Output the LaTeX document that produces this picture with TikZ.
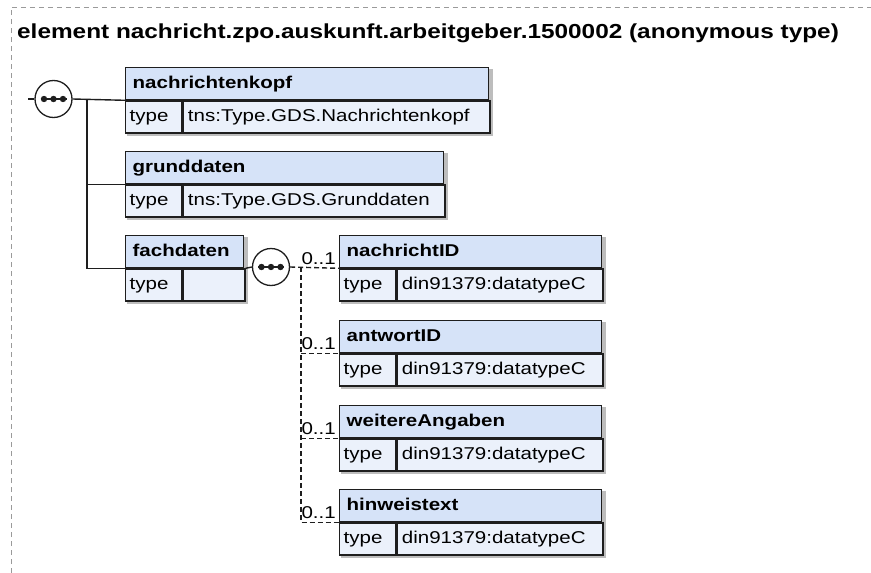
\documentclass[tikz,border=0pt]{standalone}
\usepackage{fontspec}
\setmainfont{Liberation Sans}[FakeStretch=1.2]
\usetikzlibrary{positioning, backgrounds}
\definecolor{HeadBlue}{HTML}{D6E3F8}
\definecolor{TypeBlue}{HTML}{EBF1FB}
\definecolor{FrameGray}{HTML}{9A9A9A}
\definecolor{ShadeGray}{HTML}{BDBDBD}
\definecolor{LineDark}{HTML}{1E1E1E}

\tikzset{
  cell/.style={draw=LineDark, line width=1.3pt, anchor=north west, minimum height=32pt,
    inner ysep=7.5pt, text height=13.5pt, text depth=3.5pt, align=left,
    font=\fontsize{17.1}{20}\selectfont},
  elhead/.style={cell, fill=HeadBlue, inner xsep=7pt, text width=#1, font=\fontsize{17.1}{20}\selectfont\bfseries},
  eltype/.style={cell, fill=TypeBlue, inner xsep=4pt, text width=48pt},
  elval/.style={cell, fill=TypeBlue, inner xsep=5pt, text width=#1},
  shade/.style={fill=ShadeGray, draw=none},
  seq/.style={circle, draw=LineDark, fill=white, line width=1.3pt, minimum size=37pt, inner sep=0pt,
    path picture={
      \draw[LineDark, line width=1.2pt] ([xshift=-13pt]path picture bounding box.center) -- ([xshift=13pt]path picture bounding box.center);
      \fill[LineDark] ([xshift=-9.5pt]path picture bounding box.center) circle (3.2pt);
      \fill[LineDark] (path picture bounding box.center) circle (3.2pt);
      \fill[LineDark] ([xshift=9.5pt]path picture bounding box.center) circle (3.2pt);
    }},
  conn/.style={draw=LineDark, line width=1.4pt},
  optconn/.style={conn, dash pattern=on 5pt off 3pt},
  occ/.style={anchor=base east, inner sep=0pt, font=\fontsize{17.1}{20}\selectfont}
}

\begin{document}
\begin{tikzpicture}[x=1pt, y=-1pt]
  \useasboundingbox (0,0) rectangle (871,573);
  % frame and title
  \draw[FrameGray, line width=1pt, dash pattern=on 5pt off 4pt] (11,573) -- (11,7) -- (871,7);
  \node[anchor=base west, inner sep=0pt, font=\fontsize{20.3}{24}\selectfont\bfseries] (title) at (17,38)
    {element nachricht.zpo.auskunft.arbeitgeber.1500002 (anonymous type)};

  % top level sequence
  \node[elhead=349pt] (kopf) at (125,67) {nachrichtenkopf};
  \node[eltype] (kopfT) at (kopf.south west) {type};
  \node[elval=297pt] (kopfV) at (kopfT.north east) {tns:Type.GDS.Nachrichtenkopf};

  \node[elhead=304pt] (grund) at (125,151) {grunddaten};
  \node[eltype] (grundT) at (grund.south west) {type};
  \node[elval=252pt] (grundV) at (grundT.north east) {tns:Type.GDS.Grunddaten};

  \node[elhead=104pt] (fach) at (125,235) {fachdaten};
  \node[eltype] (fachT) at (fach.south west) {type};
  \node[elval=52pt] (fachV) at (fachT.north east) {};

  \coordinate (start) at (28,99);
  \coordinate (jA) at (87,99);
  \node[seq] (seqA) at (53.5,99) {};
  \draw[conn] (start) -- (seqA.west);
  \draw[conn] (seqA.east) -- (kopfT.north west);
  \draw[conn] (jA) |- (fachT.north west);
  \draw[conn] (jA |- grundT.north west) -- (grundT.north west);

  % content of fachdaten
  \node[elhead=248pt] (nid) at (339,235) {nachrichtID};
  \node[eltype] (nidT) at (nid.south west) {type};
  \node[elval=196pt] (nidV) at (nidT.north east) {din91379:datatypeC};

  \node[elhead=248pt] (aid) at (339,320) {antwortID};
  \node[eltype] (aidT) at (aid.south west) {type};
  \node[elval=196pt] (aidV) at (aidT.north east) {din91379:datatypeC};

  \node[elhead=248pt] (weit) at (339,405) {weitereAngaben};
  \node[eltype] (weitT) at (weit.south west) {type};
  \node[elval=196pt] (weitV) at (weitT.north east) {din91379:datatypeC};

  \node[elhead=248pt] (hin) at (339,489) {hinweistext};
  \node[eltype] (hinT) at (hin.south west) {type};
  \node[elval=196pt] (hinV) at (hinT.north east) {din91379:datatypeC};

  \node[seq] (seqB) at (271,267) {};
  \coordinate (jB) at (301,267);
  \draw[conn] (fachV.north east) -- (seqB.west);
  \draw[optconn] (seqB.east) -- (nidT.north west);
  \draw[optconn] (jB) |- (hinT.north west);
  \draw[optconn] (jB |- aidT.north west) -- (aidT.north west);
  \draw[optconn] (jB |- weitT.north west) -- (weitT.north west);

  \node[occ] (occN) at ([xshift=-3pt, yshift=4pt]nidT.north west) {0..1};
  \node[occ] (occA) at ([xshift=-3pt, yshift=4pt]aidT.north west) {0..1};
  \node[occ] (occW) at ([xshift=-3pt, yshift=4pt]weitT.north west) {0..1};
  \node[occ] (occH) at ([xshift=-3pt, yshift=4pt]hinT.north west) {0..1};

  % shadows behind the boxes
  \begin{scope}[on background layer]
    \foreach \el in {kopf, grund, fach, nid, aid, weit, hin}
      \fill[shade] ([shift={(2pt,-2pt)}]\el.north west) rectangle ([shift={(2pt,-2pt)}]\el V.south east);
  \end{scope}
\end{tikzpicture}
\end{document}
